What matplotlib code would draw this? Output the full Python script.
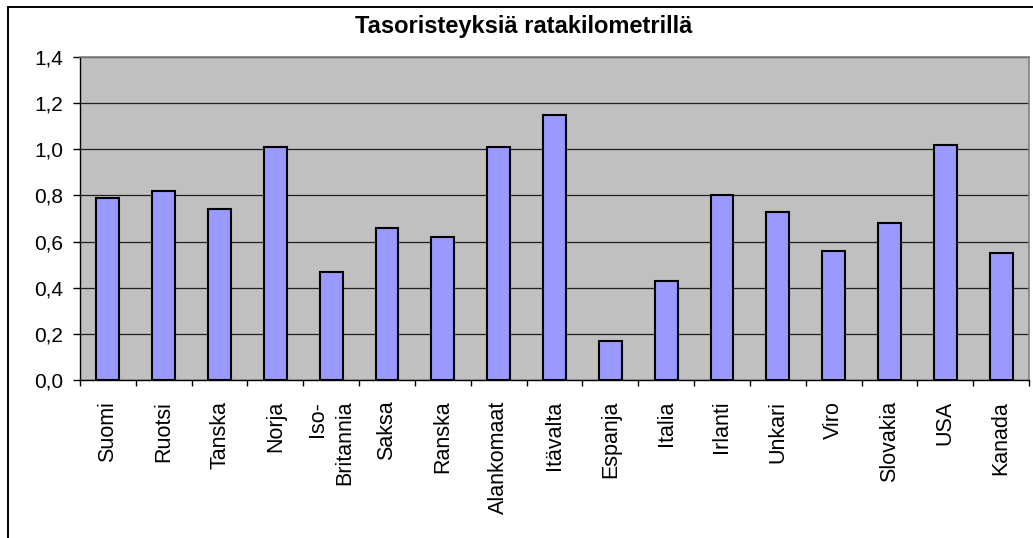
import matplotlib.pyplot as plt
from matplotlib.patches import Rectangle
from matplotlib.ticker import FuncFormatter, MultipleLocator
import numpy as np

plt.rcParams['font.family'] = ['Liberation Sans', 'DejaVu Sans']

# level crossings per railway kilometre
countries = ["Suomi", "Ruotsi", "Tanska", "Norja", "Iso-\nBritannia", "Saksa",
             "Ranska", "Alankomaat", "Itävalta", "Espanja", "Italia", "Irlanti",
             "Unkari", "Viro", "Slovakia", "USA", "Kanada"]
crossings = [0.79, 0.82, 0.74, 1.01, 0.47, 0.66, 0.62, 1.01, 1.15, 0.17,
             0.43, 0.80, 0.73, 0.56, 0.68, 1.02, 0.55]
title = "Tasoristeyksiä ratakilometrillä"

W, H = 1033, 538
fig = plt.figure(figsize=(W / 100, H / 100), dpi=100)
ax = fig.add_axes([80 / W, 1 - 380 / H, 949 / W, 323 / H])
ax.set_facecolor("#c0c0c0")

x = np.arange(len(countries))
ax.bar(x, crossings, width=0.41, color="#9999ff", edgecolor="black",
       linewidth=1.5, zorder=3)

ax.set_xlim(-0.5, len(countries) - 0.5)
ax.set_ylim(0, 1.4)
ax.yaxis.set_major_locator(MultipleLocator(0.2))
ax.yaxis.set_major_formatter(FuncFormatter(lambda v, p: f"{v:.1f}".replace(".", ",")))
ax.grid(axis="y", color="#202020", linewidth=0.9, zorder=1)
ax.set_axisbelow(True)

ax.set_xticks(x)
ax.set_xticklabels(countries, rotation=90, va="top", ha="center",
                   multialignment="right", linespacing=1.35)
ax.set_xticks(np.arange(len(countries) + 1) - 0.5, minor=True)
ax.tick_params(axis="x", which="major", length=0, pad=15, labelsize=15.5)
ax.tick_params(axis="x", which="minor", length=4.5, width=1, color="black")
ax.tick_params(axis="y", length=5, width=1, pad=7, labelsize=15)

for side in ("top", "right"):
    ax.spines[side].set_color("#808080")
    ax.spines[side].set_linewidth(1.2)
for side in ("left", "bottom"):
    ax.spines[side].set_color("black")
    ax.spines[side].set_linewidth(1.0)

fig.text(524 / W, 1 - 27 / H, title, ha="center", va="center",
         fontsize=17, fontweight="bold")

# chart frame (open at right and bottom)
fig.add_artist(Rectangle((8 / W, -0.5), 1.5, 1.5 - 7 / H,
                         transform=fig.transFigure, fill=False,
                         edgecolor="black", linewidth=1.4))

fig.savefig("out.png", dpi=100)
